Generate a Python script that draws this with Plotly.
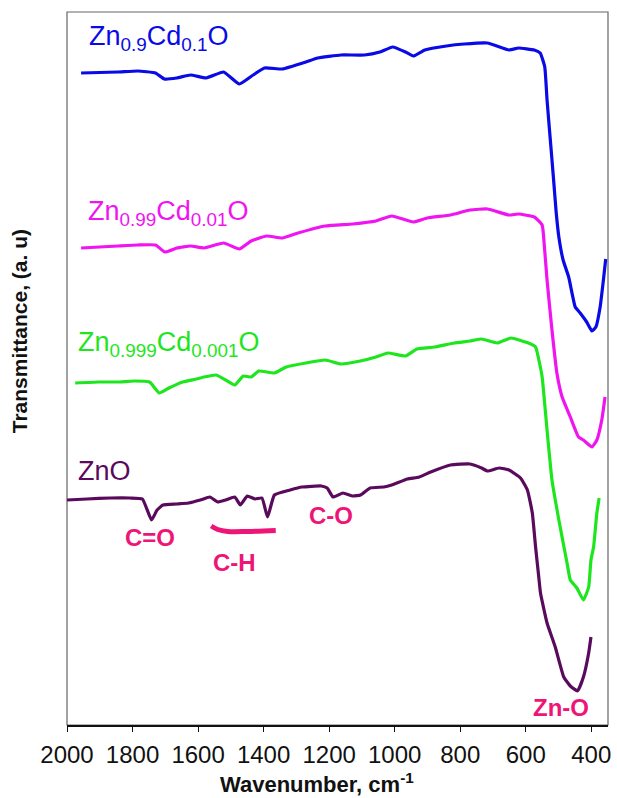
import plotly.graph_objects as go

# ---------------- data ----------------
wn_b = [1957,1844,1784,1730,1703,1665,1623,1575,1522,1474,1432,1397,1343,1271,1235,1164,1092,1045,1006,967,
        943,908,842,788,717,651,622,574,556,542,535,525,515,507,499,486,469,449,434,414,398,386,373,363,356]
t_b = [6.52,6.53,6.54,6.52,6.46,6.47,6.50,6.47,6.53,6.41,6.50,6.57,6.56,6.63,6.67,6.70,6.70,6.73,6.78,6.73,
       6.69,6.75,6.79,6.81,6.82,6.75,6.77,6.75,6.72,6.58,6.25,5.85,5.45,5.12,4.88,4.65,4.48,4.18,4.12,4.03,
       3.94,3.98,4.18,4.45,4.66]

wn_m = [1957,1844,1784,1730,1701,1665,1623,1582,1522,1474,1438,1391,1343,1295,1212,1128,1057,1009,943,901,
        830,770,717,651,622,574,550,543,535,520,505,489,464,439,424,398,383,368,358]
t_m = [4.77,4.79,4.80,4.80,4.73,4.77,4.79,4.77,4.82,4.76,4.84,4.89,4.87,4.92,4.99,5.01,5.04,5.09,5.03,5.07,
       5.10,5.15,5.16,5.10,5.11,5.08,5.00,4.78,4.45,3.95,3.52,3.28,3.08,2.88,2.85,2.78,2.85,3.05,3.28]

wn_g = [1975,1903,1844,1796,1748,1718,1689,1647,1605,1582,1545,1516,1488,1462,1438,1415,1367,1331,1271,1212,
        1164,1105,1057,1021,967,932,878,818,770,735,687,645,592,570,560,550,535,520,499,474,464,444,424,408,
        401,393,383,376]
t_g = [3.42,3.43,3.43,3.44,3.43,3.32,3.37,3.43,3.46,3.48,3.50,3.45,3.40,3.49,3.48,3.54,3.52,3.58,3.62,3.65,
       3.61,3.64,3.68,3.72,3.69,3.76,3.78,3.82,3.84,3.86,3.82,3.87,3.82,3.78,3.65,3.48,2.95,2.45,2.05,1.62,
       1.45,1.37,1.25,1.38,1.65,1.78,2.12,2.27]

wn_p = [2000,1939,1868,1808,1770,1742,1725,1707,1665,1629,1593,1564,1540,1516,1488,1471,1450,1426,1405,1388,
        1367,1319,1283,1224,1206,1188,1158,1128,1104,1075,1033,1009,961,925,890,830,770,735,717,681,651,616,
        595,580,570,560,555,535,510,484,464,442,424,408,401]
t_p = [2.25,2.26,2.27,2.27,2.26,2.05,2.15,2.20,2.21,2.22,2.25,2.28,2.23,2.25,2.28,2.20,2.29,2.26,2.27,2.08,
       2.30,2.35,2.38,2.39,2.37,2.28,2.32,2.29,2.30,2.37,2.38,2.40,2.46,2.48,2.53,2.60,2.61,2.57,2.54,2.57,
       2.55,2.47,2.35,2.12,1.78,1.47,1.32,1.02,0.78,0.48,0.39,0.34,0.48,0.72,0.88]

# C-H band bracket
ch_wn = [1560, 1540, 1510, 1450, 1363]
ch_t = [1.99, 1.955, 1.935, 1.935, 1.945]

x_ticks = [2000, 1800, 1600, 1400, 1200, 1000, 800, 600, 400]

series_names = ["Zn<sub>0.9</sub>Cd<sub>0.1</sub>O", "Zn<sub>0.99</sub>Cd<sub>0.01</sub>O",
                "Zn<sub>0.999</sub>Cd<sub>0.001</sub>O", "ZnO"]
series_colors = ["#0a0ae6", "#f014f0", "#1ee61e", "#5a0a5c"]
label_wn = [1939, 1941, 1972, 1974]
label_t = [6.87, 5.12, 3.81, 2.54]

band_labels = ["C=O", "C-H", "C-O", "Zn-O"]
band_wn = [1747, 1489, 1194, 493]
band_t = [1.88, 1.63, 2.10, 0.18]
pink = "#ee1577"

FONT = "Liberation Sans, Arial, sans-serif"

fig = go.Figure()
for wn, t, c in zip([wn_b, wn_m, wn_g, wn_p], [t_b, t_m, t_g, t_p], series_colors):
    fig.add_trace(go.Scatter(x=wn, y=t, mode="lines", line=dict(color=c, width=3.2, shape="spline", smoothing=0.4),
                             hoverinfo="skip", showlegend=False))
fig.add_trace(go.Scatter(x=ch_wn, y=ch_t, mode="lines", line=dict(color=pink, width=5, shape="spline"),
                         hoverinfo="skip", showlegend=False))

for name, c, xw, yt in zip(series_names, series_colors, label_wn, label_t):
    fig.add_annotation(x=xw, y=yt, text=name, showarrow=False, xanchor="left", yanchor="middle",
                       font=dict(family=FONT, size=27, color=c))
for name, xw, yt in zip(band_labels, band_wn, band_t):
    fig.add_annotation(x=xw, y=yt, text="<b>" + name + "</b>", showarrow=False, xanchor="center", yanchor="middle",
                       font=dict(family=FONT, size=24, color=pink))

fig.add_annotation(xref="paper", yref="paper", x=-0.0864, y=0.5526, text="<b>Transmittance, (a. u)</b>",
                   textangle=-90, showarrow=False, xanchor="center", yanchor="middle",
                   font=dict(family=FONT, size=21, color="#111"))
fig.add_annotation(xref="paper", yref="paper", x=0.4625, y=-0.0820, text="<b>Wavenumber, cm<sup>-1</sup></b>",
                   showarrow=False, xanchor="center", yanchor="middle",
                   font=dict(family=FONT, size=22, color="#111"))

fig.add_shape(type="rect", xref="paper", yref="paper", x0=0, y0=0, x1=1, y1=1,
              line=dict(color="#666", width=1.2), layer="below")

fig.update_layout(
    width=617, height=798,
    margin=dict(l=67, r=6, t=12, b=73),
    paper_bgcolor="white", plot_bgcolor="white",
    showlegend=False,
)
fig.update_xaxes(range=[2000, 349], tickvals=x_ticks, ticktext=[str(v) for v in x_ticks],
                 ticks="outside", ticklen=5, tickwidth=1.2, tickcolor="#111",
                 showline=True, linecolor="#111", linewidth=2, showgrid=False, zeroline=False,
                 ticklabelstandoff=2,
                 tickfont=dict(family=FONT, size=24, color="#111"))
fig.update_yaxes(range=[0, 7.13], showticklabels=False, ticks="", showgrid=False, zeroline=False,
                 showline=False)

fig.write_html("out.html")
